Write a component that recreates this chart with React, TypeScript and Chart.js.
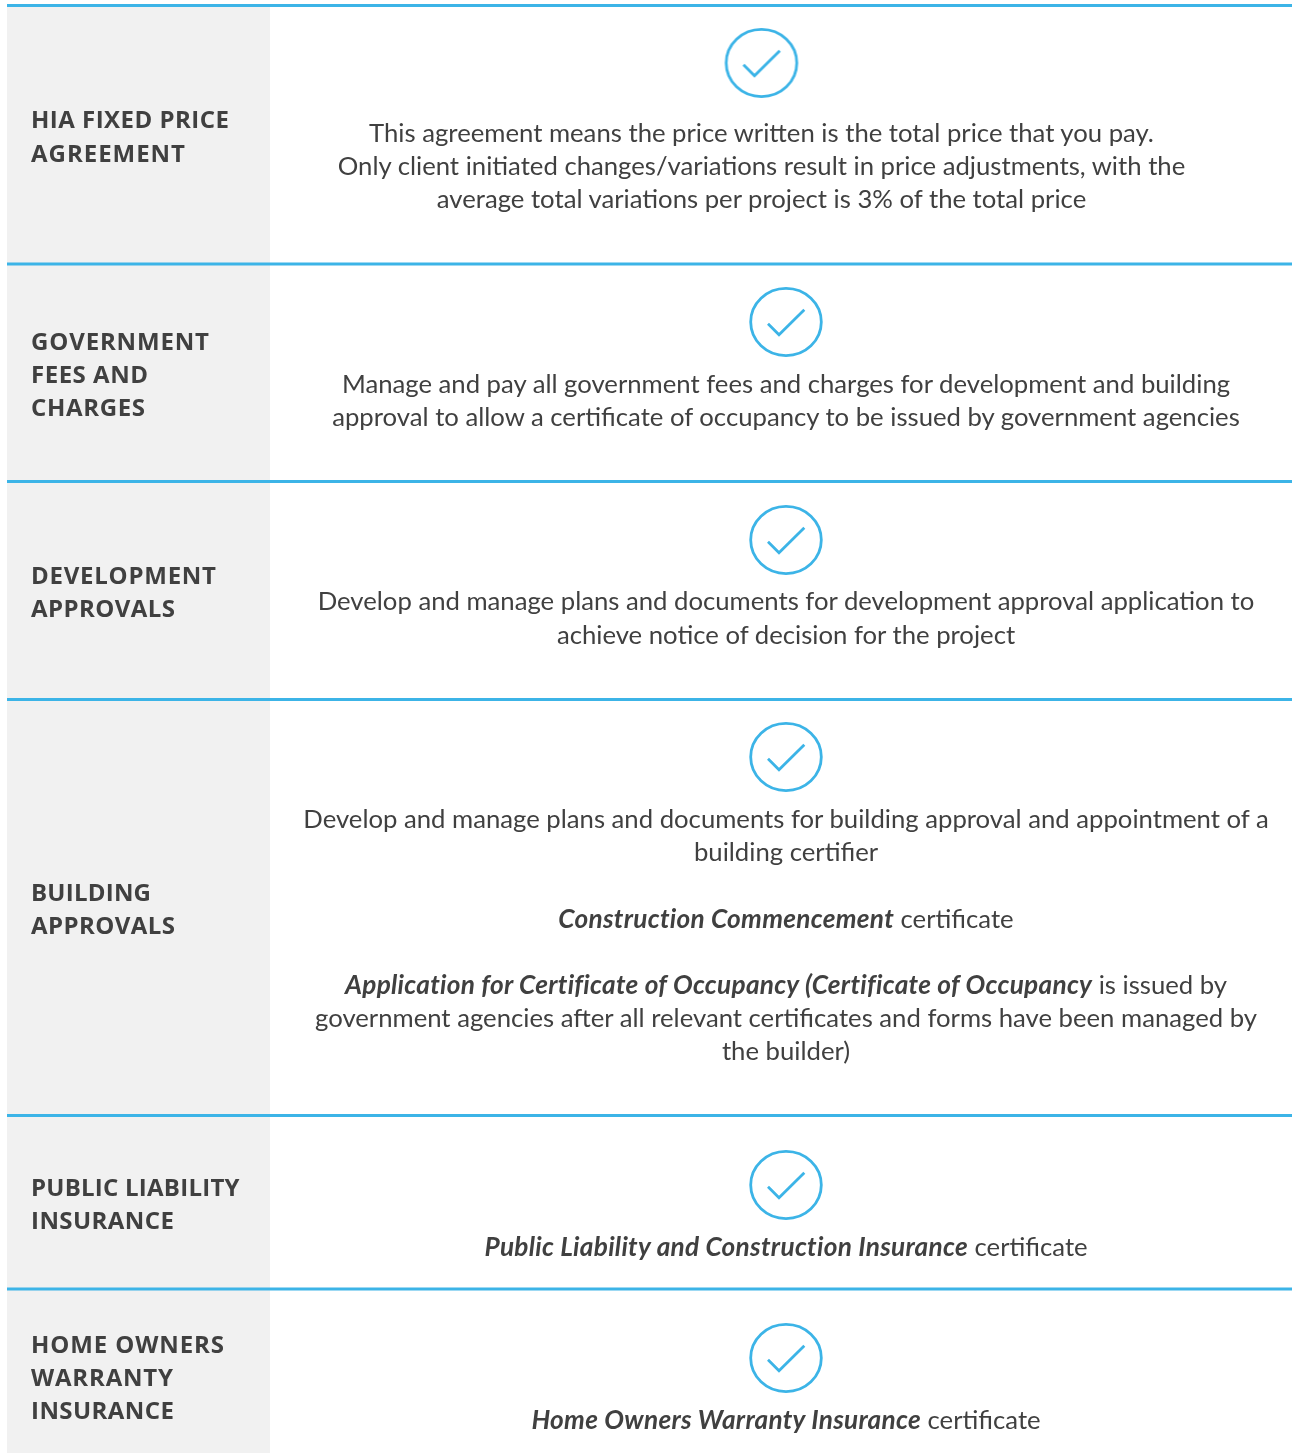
import React, { useEffect, useRef } from "react";
import { Chart, registerables } from "chart.js";

Chart.register(...registerables);

const WIDTH = 1292;
const HEIGHT = 1453;
const BLUE = "#3CB4E7";
const GREY = "#F1F1F1";
const INK = "#404040";
const LABEL_FONT = '700 24px "Open Sans"';
const BODY_SIZE = 25.7;
const EMPH_SIZE = 26.2;

const rowTops = [5.5, 264, 481.5, 699.5, 1115.5, 1289];
const rowBottoms = [264, 481.5, 699.5, 1115.5, 1289, 1453];
const greyLeft = 7;
const greyRight = 270;
const checkXs = [761.5, 786, 786, 786, 786, 786];
const checkYs = [63, 322, 540, 757, 1185, 1358];
const labelX = 31;
// [baseline y, right end x, text]
const labelLines: [number, number, string][] = [
  [128, 229, "HIA FIXED PRICE"],
  [162, 185, "AGREEMENT"],
  [350, 209, "GOVERNMENT"],
  [383, 148, "FEES AND"],
  [416, 145, "CHARGES"],
  [584, 216, "DEVELOPMENT"],
  [617, 175, "APPROVALS"],
  [901, 151, "BUILDING"],
  [934, 175, "APPROVALS"],
  [1196, 239.5, "PUBLIC LIABILITY"],
  [1229, 174, "INSURANCE"],
  [1353, 224, "HOME OWNERS"],
  [1386, 173, "WARRANTY"],
  [1419, 174, "INSURANCE"],
];
// [centre x, baseline y, [text, emphasised]...]
const bodyLines: [number, number, [string, boolean][]][] = [
  [761.5, 142, [["This agreement means the price written is the total price that you pay.", false]]],
  [761.5, 175, [["Only client initiated changes/variations result in price adjustments, with the", false]]],
  [761.5, 208, [["average total variations per project is 3% of the total price", false]]],
  [786, 393, [["Manage and pay all government fees and charges for development and building", false]]],
  [786, 426, [["approval to allow a certificate of occupancy to be issued by government agencies", false]]],
  [786, 610, [["Develop and manage plans and documents for development approval application to", false]]],
  [786, 644, [["achieve notice of decision for the project", false]]],
  [786, 828, [["Develop and manage plans and documents for building approval and appointment of a", false]]],
  [786, 861, [["building certifier", false]]],
  [786, 928, [["Construction Commencement", true], [" certificate", false]]],
  [786, 994, [["Application for Certificate of Occupancy (Certificate of Occupancy", true], [" is issued by", false]]],
  [786, 1027, [["government agencies after all relevant certificates and forms have been managed by", false]]],
  [786, 1060, [["the builder)", false]]],
  [786, 1256, [["Public Liability and Construction Insurance", true], [" certificate", false]]],
  [786, 1429, [["Home Owners Warranty Insurance", true], [" certificate", false]]],
];

function makeCheckIcon(): HTMLCanvasElement {
  const c = document.createElement("canvas");
  c.width = 80;
  c.height = 76;
  const g = c.getContext("2d")!;
  g.strokeStyle = BLUE;
  g.lineWidth = 2.8;
  g.beginPath();
  g.ellipse(40, 38, 35.3, 33.6, 0, 0, Math.PI * 2);
  g.stroke();
  g.beginPath();
  g.moveTo(22, 39.7);
  g.lineTo(33, 50.7);
  g.lineTo(58.3, 25.7);
  g.stroke();
  return c;
}

const textPlugin = {
  id: "tableText",
  afterDatasetsDraw(chart: any) {
    const { ctx, scales } = chart;
    const px = (v: number) => scales.x.getPixelForValue(v);
    const py = (v: number) => scales.y.getPixelForValue(v);
    ctx.save();
    ctx.fillStyle = INK;
    ctx.textBaseline = "alphabetic";
    ctx.textAlign = "left";
    ctx.fontKerning = "normal";
    ctx.textRendering = "optimizeLegibility";
    ctx.font = LABEL_FONT;
    for (const [y, right, text] of labelLines) {
      ctx.letterSpacing = "0px";
      const natural = ctx.measureText(text).width;
      const spacing = (px(right) - px(labelX) - natural) / (text.length - 1);
      ctx.letterSpacing = `${spacing}px`;
      ctx.fillText(text, px(labelX), py(y));
    }
    ctx.letterSpacing = "0px";
    const regular = `400 ${BODY_SIZE}px Lato`;
    const emph = `italic 700 ${EMPH_SIZE}px Lato`;
    const setRun = (e: boolean) => {
      ctx.font = e ? emph : regular;
      ctx.letterSpacing = e ? "0.3px" : "0px";
    };
    for (const [cx, y, runs] of bodyLines) {
      let total = 0;
      for (const [t, e] of runs) {
        setRun(e);
        total += ctx.measureText(t).width;
      }
      let x = px(cx) - total / 2;
      for (const [t, e] of runs) {
        setRun(e);
        ctx.fillText(t, x, py(y));
        x += ctx.measureText(t).width;
      }
    }
    ctx.restore();
  },
};

export default function App() {
  const ref = useRef<HTMLCanvasElement>(null);
  useEffect(() => {
    document.body.style.margin = "0";
    const icon = makeCheckIcon();
    const line = (a: number, b: number, y: number) => ({
      type: "line" as const,
      data: [{ x: a, y }, { x: b, y }],
      borderColor: BLUE,
      borderWidth: 3,
      pointRadius: 0,
      order: 1,
    });
    const datasets: any[] = [
      ...rowTops.map((top, i) => ({
        type: "line" as const,
        data: [{ x: greyLeft, y: top }, { x: greyRight, y: top }],
        borderWidth: 0,
        pointRadius: 0,
        backgroundColor: GREY,
        fill: { value: rowBottoms[i] },
        order: 3,
      })),
      ...rowTops.map((top) => line(greyLeft, WIDTH, top)),
      {
        type: "scatter" as const,
        data: checkXs.map((x, i) => ({ x, y: checkYs[i] })),
        pointStyle: icon,
        order: 0,
      },
    ];
    const chart = new Chart(ref.current!, {
      type: "scatter",
      data: { datasets },
      plugins: [textPlugin],
      options: {
        responsive: false,
        animation: false,
        layout: { padding: 0, autoPadding: false },
        plugins: { legend: { display: false }, tooltip: { enabled: false } },
        scales: {
          x: { type: "linear", min: 0, max: WIDTH, display: false },
          y: { type: "linear", min: 0, max: HEIGHT, reverse: true, display: false },
        },
      },
    } as any);
    return () => chart.destroy();
  }, []);
  return <canvas ref={ref} width={WIDTH} height={HEIGHT} style={{ display: "block" }} />;
}
